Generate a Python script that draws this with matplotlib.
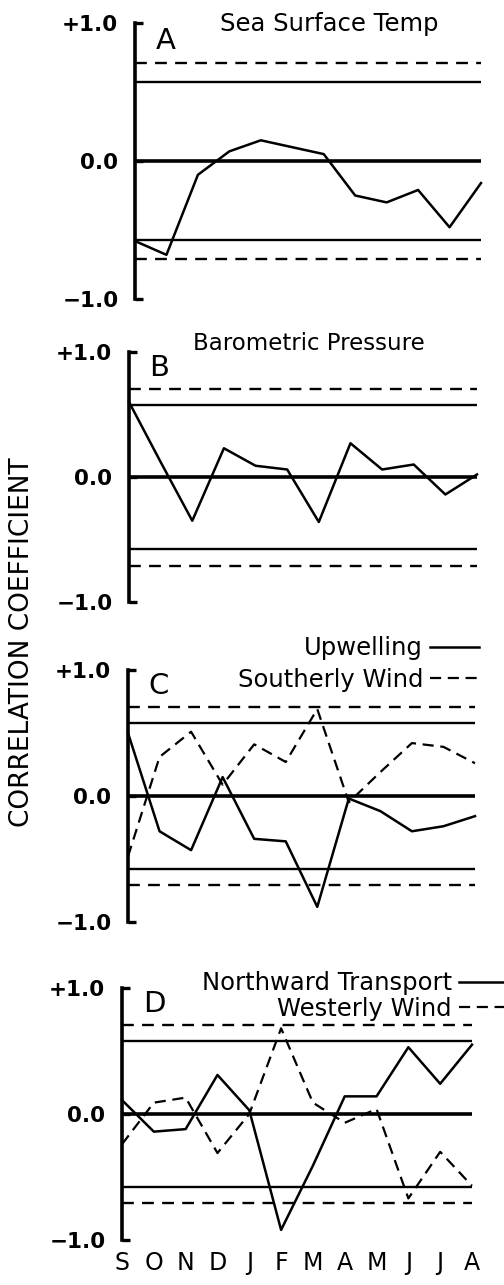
import matplotlib.pyplot as plt
import numpy as np

# months Sept..Aug
months = ['S', 'O', 'N', 'D', 'J', 'F', 'M', 'A', 'M', 'J', 'J', 'A']

# correlation coefficients
sea_surface_temp = [-0.58, -0.68, -0.10, 0.07, 0.15, 0.10, 0.05, -0.25, -0.30, -0.21, -0.48, -0.16]
barometric_pressure = [0.60, 0.12, -0.35, 0.23, 0.09, 0.06, -0.36, 0.27, 0.06, 0.10, -0.14, 0.02]
upwelling = [0.50, -0.28, -0.43, 0.15, -0.34, -0.36, -0.88, -0.02, -0.12, -0.28, -0.24, -0.16]
southerly_wind = [-0.48, 0.31, 0.51, 0.09, 0.41, 0.27, 0.69, -0.05, 0.19, 0.42, 0.39, 0.26]
northward_transport = [0.11, -0.14, -0.12, 0.31, 0.03, -0.92, -0.41, 0.14, 0.14, 0.53, 0.24, 0.55]
westerly_wind = [-0.24, 0.09, 0.13, -0.31, 0.00, 0.68, 0.09, -0.07, 0.04, -0.67, -0.30, -0.57]

# significance levels (n = 12)
sig_95 = 0.576
sig_99 = 0.708

W, H = 504, 1285
fig = plt.figure(figsize=(W / 100, H / 100), dpi=100)

# panel boxes in pixels: left, right, top, bottom
boxes = [(135, 481, 23, 299), (129, 477, 352, 602), (128, 475, 670, 922), (122, 472, 988, 1240)]
letters = ['A', 'B', 'C', 'D']

x = np.arange(len(months))
axes = []
for (l, r, t, b), letter in zip(boxes, letters):
    ax = fig.add_axes([l / W, 1 - b / H, (r - l) / W, (b - t) / H])
    ax.set_xlim(0, 11)
    ax.set_ylim(-1, 1)
    for s in ['top', 'right', 'bottom']:
        ax.spines[s].set_visible(False)
    ax.spines['left'].set_linewidth(2.6)
    ax.set_yticks([-1, 0, 1], ['\u22121.0', '0.0', '+1.0'], fontweight='bold')
    ax.tick_params(axis='y', direction='in', length=6, width=2.4, pad=12, labelsize=15.5)
    ax.set_xticks([])
    ax.patch.set_alpha(0)

    # zero line and significance lines
    ax.axhline(0, color='k', lw=2.6)
    ax.axhline(sig_95, color='k', lw=1.7)
    ax.axhline(-sig_95, color='k', lw=1.7)
    ax.axhline(sig_99, color='k', lw=1.7, dashes=(5, 3.5))
    ax.axhline(-sig_99, color='k', lw=1.7, dashes=(5, 3.5))

    ax.text(0.65, 0.87, letter, fontsize=21, ha='left', va='center')
    axes.append(ax)

axA, axB, axC, axD = axes

axA.plot(x, sea_surface_temp, color='k', lw=1.8, clip_on=False)
axB.plot(x, barometric_pressure, color='k', lw=1.8, clip_on=False)

l1, = axC.plot(x, upwelling, color='k', lw=1.8, clip_on=False)
l2, = axC.plot(x, southerly_wind, color='k', lw=1.6, dashes=(5, 3), clip_on=False)
axC.legend([l1, l2], ['Upwelling', 'Southerly Wind'], markerfirst=False, frameon=False,
           loc='center right', bbox_to_anchor=(479 / W, 1 - 664 / H), bbox_transform=fig.transFigure,
           borderpad=0, borderaxespad=0, handlelength=2.0, handletextpad=0.3, labelspacing=0.3,
           fontsize=17.5)

l3, = axD.plot(x, northward_transport, color='k', lw=1.8, clip_on=False)
l4, = axD.plot(x, westerly_wind, color='k', lw=1.6, dashes=(5, 3), clip_on=False)
axD.legend([l3, l4], ['Northward Transport', 'Westerly Wind'], markerfirst=False, frameon=False,
           loc='center right', bbox_to_anchor=(508 / W, 1 - 996 / H), bbox_transform=fig.transFigure,
           borderpad=0, borderaxespad=0, handlelength=2.0, handletextpad=0.3, labelspacing=0.05,
           fontsize=17.5)

axD.set_xticks(x, months)
axD.tick_params(axis='x', length=0, pad=8, labelsize=17)

# panel titles
fig.text(329 / W, 1 - 24 / H, 'Sea Surface Temp', ha='center', va='center', fontsize=17.5)
fig.text(309 / W, 1 - 344 / H, 'Barometric Pressure', ha='center', va='center', fontsize=16.5)

fig.text(22 / W, 1 - 642 / H, 'CORRELATION COEFFICIENT', rotation=90, ha='center', va='center', fontsize=19)

fig.savefig('out.png', dpi=100)
